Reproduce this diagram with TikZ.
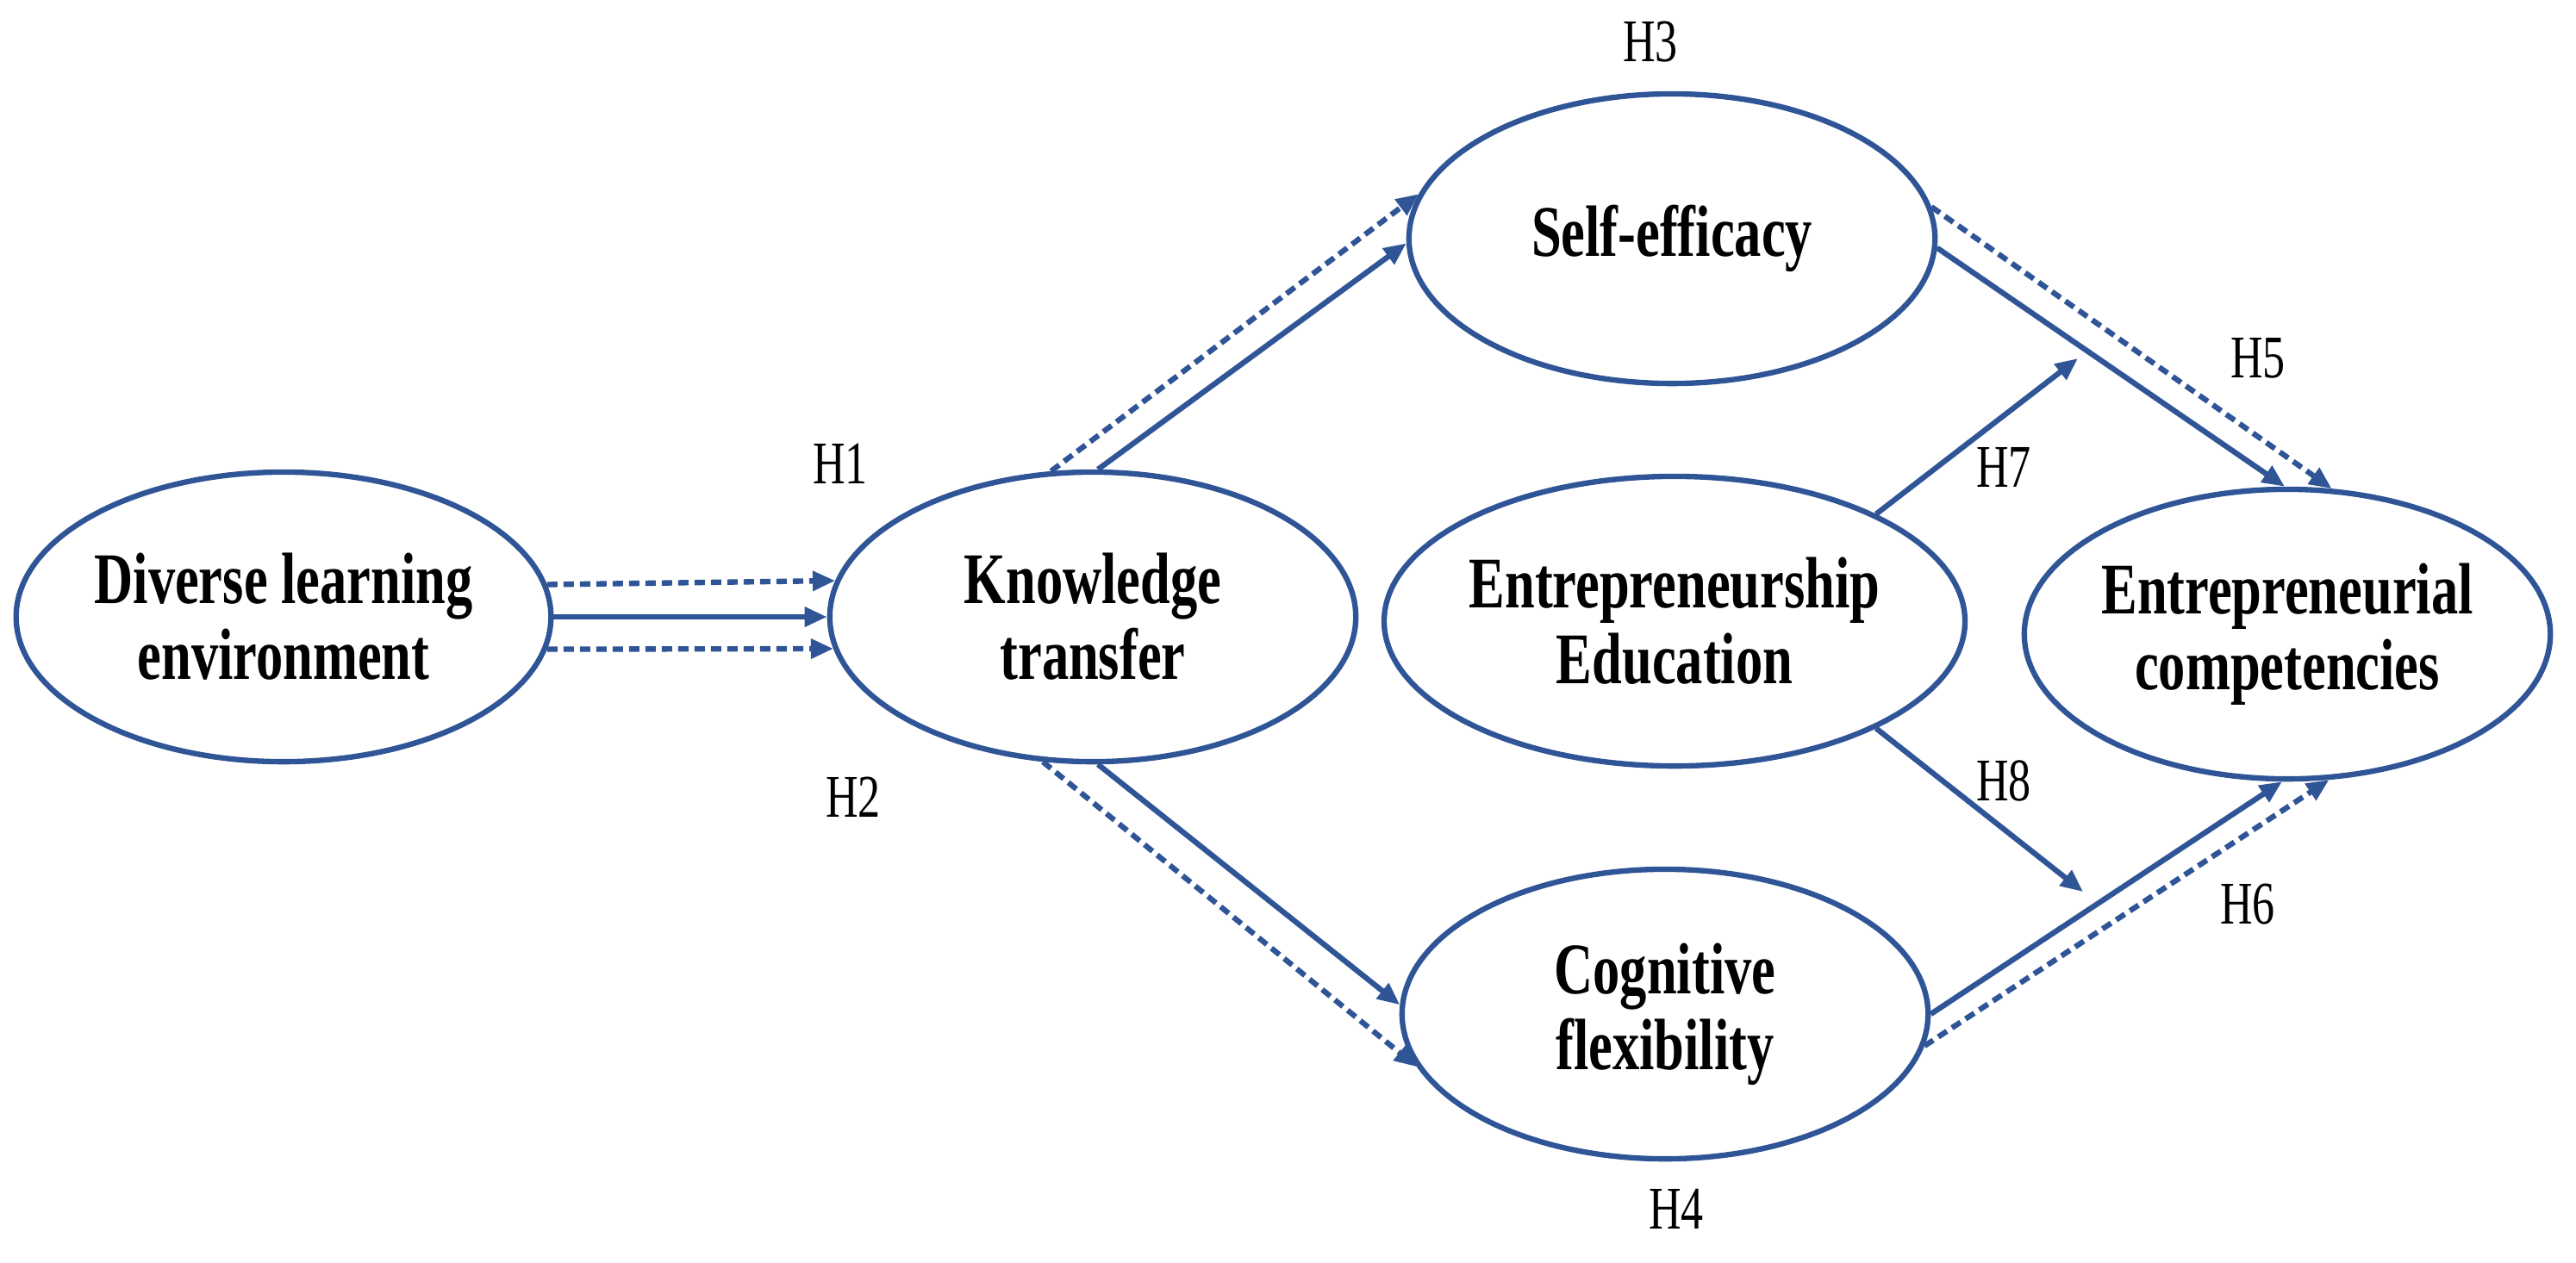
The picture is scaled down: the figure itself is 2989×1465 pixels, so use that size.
\documentclass[tikz,border=0pt]{standalone}
\usepackage{fontspec}
\setmainfont{Liberation Serif}
\newfontfamily\nodefont[FakeStretch=0.74]{Liberation Serif}
\usetikzlibrary{shapes.geometric,arrows.meta}
\definecolor{lineblue}{RGB}{47,85,151}
\tikzset{
  var/.style={ellipse,draw=lineblue,line width=1.8pt,minimum width=6.1cm,minimum height=3.36cm,inner sep=0pt,align=center,font=\nodefont\fontsize{24}{25}\selectfont\bfseries},
  hlab/.style={font=\nodefont\fontsize{20}{21}\selectfont},
  arr/.style={draw=lineblue,line width=1.8pt,-{Triangle[length=0.26cm,width=0.22cm]}},
  darr/.style={arr,dash pattern=on 0.12cm off 0.07cm}
}
\begin{document}
\begin{tikzpicture}[x=0.01cm,y=-0.01cm]
\useasboundingbox (0,0) rectangle (2989,1465);
\node[var] (dl) at (329,716) {Diverse learning\\environment};
\node[var] (kt) at (1268,716) {Knowledge\\transfer};
\node[var] (se) at (1940,277) {Self-efficacy};
\node[var] (ee) at (1943,721) {Entrepreneurship\\Education};
\node[var] (ec) at (2654,736) {Entrepreneurial\\competencies};
\node[var] (cf) at (1932,1177) {Cognitive\\flexibility};
\node[hlab] (h3) at (1915,49) {H3};
\node[hlab] (h1) at (975,538) {H1};
\node[hlab] (h2) at (990,925) {H2};
\node[hlab] (h5) at (2620,416) {H5};
\node[hlab] (h7) at (2325,542) {H7};
\node[hlab] (h8) at (2325,906) {H8};
\node[hlab] (h6) at (2608,1050) {H6};
\node[hlab] (h4) at (1945,1403) {H4};
\coordinate (e7) at (2411,416);
\coordinate (e8) at (2417,1035);
\draw[darr] (dl.7.8) -- (kt.172.2);
\draw[arr] (dl.0) -- (kt.180);
\draw[darr] (dl.-7.8) -- (kt.187.8);
\draw[arr] (kt.88) -- (se.181.5);
\draw[darr] (kt.106) -- (se.170);
\draw[arr] (kt.272) -- (cf.178);
\draw[darr] (kt.251.5) -- (cf.192.7);
\draw[arr] (se.358.5) -- (ec.91.7);
\draw[darr] (se.7) -- (ec.73);
\draw[arr] (cf.0) -- (ec.268);
\draw[darr] (cf.-7) -- (ec.286.5);
\draw[arr] (ee.28) -- (e7);
\draw[arr] (ee.-28) -- (e8);
\end{tikzpicture}
\end{document}
